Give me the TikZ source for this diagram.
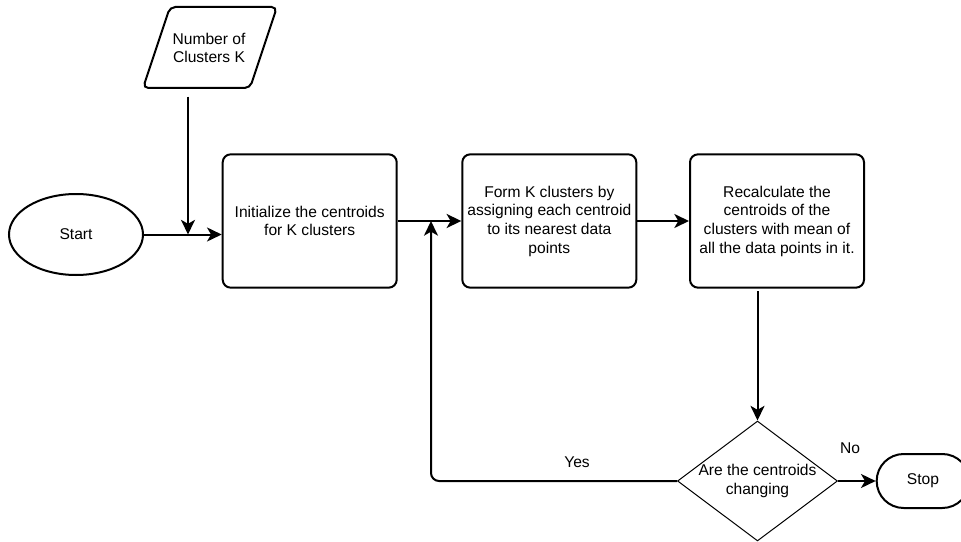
\documentclass[tikz,border=0pt]{standalone}
\usepackage{fontspec}
\setmainfont{Liberation Sans}
\usetikzlibrary{arrows.meta,shapes.geometric}
\begin{document}
\begin{tikzpicture}[x=0.75pt,y=-0.75pt,
  every node/.style={font=\fontsize{11.7}{14}\selectfont, align=center},
  box/.style={draw, line width=1.5pt, rounded corners=6pt,
    minimum width=130.5pt, minimum height=100pt, inner sep=2pt},
  terminal/.style={draw, line width=1.5pt, ellipse,
    minimum width=100.5pt, minimum height=60.75pt},
  stopbox/.style={draw, line width=1.5pt, rounded corners=20.25pt,
    minimum width=69.5pt, minimum height=40.5pt},
  decision/.style={draw, line width=0.75pt, diamond,
    minimum width=120pt, minimum height=90pt, inner sep=0pt},
  ioshape/.style={line width=1.5pt, rounded corners=4pt},
  flow/.style={line width=1.5pt, -{Stealth[length=11pt,width=10.5pt,inset=3pt]}},
  tag/.style={inner sep=0pt}
]
\useasboundingbox (0,0) rectangle (961,542);

% input: number of clusters (parallelogram)
\draw[ioshape] (196.5,88) -- (143,88) -- (170,7) -- (277,7) -- (250,88) -- cycle;
\node[tag] (param) at (209,48) {Number of\\Clusters K};

% process chain
\node[terminal] (start) at (76,234.5) {Start};
\node[box] (init)   at (309.7,221) {Initialize the centroids\\for K clusters};
\node[box] (form)   at (549.3,221) {Form K clusters by\\assigning each centroid\\to its nearest data\\points};
\node[box] (recalc) at (777,221) {Recalculate the\\centroids of the\\clusters with mean of\\all the data points in it.};

% decision and end
\node[decision, label={[align=center]center:{Are the centroids\\changing}}] (dec) at (757.5,481) {};
\node[stopbox] (stop) at (923,481) {Stop};

% junction points on the horizontal flow lines
\coordinate (paramout) at (188,96.7);
\coordinate (join1) at (188,234.5);
\coordinate (join2) at (431,221);

% connectors
\draw[flow] (paramout) -- (join1);
\draw[flow] (start.east) -- (start.east -| init.west);
\draw[flow] (init.east) -- (form.west);
\draw[flow] (form.east) -- (recalc.west);
\draw[flow] ([yshift=-2pt]recalc.south -| dec.north) -- (dec.north);
\draw[flow] (dec.east) -- (stop.west);
\draw[flow, rounded corners=6pt] (dec.west) -| (join2);

% branch labels
\node[tag] (yes) at (577,462) {Yes};
\node[tag] (no) at (850,448) {No};
\end{tikzpicture}
\end{document}
